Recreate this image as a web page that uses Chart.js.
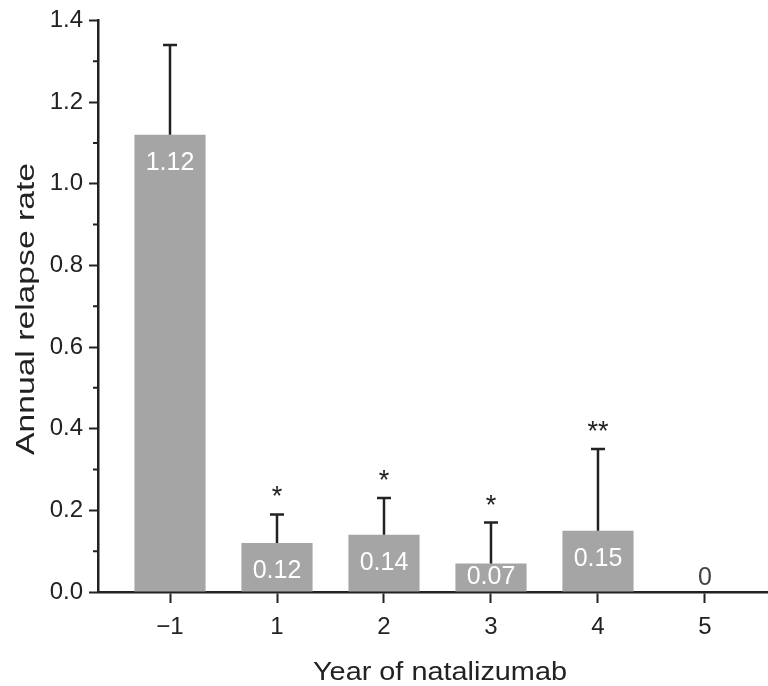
<!DOCTYPE html>
<html>
<head>
<meta charset="utf-8">
<script src="https://cdn.jsdelivr.net/npm/chart.js@4.4.0/dist/chart.umd.min.js"></script>
<style>
  html, body { margin: 0; padding: 0; background: #fff; }
  #wrap { width: 768px; height: 686px; }
</style>
</head>
<body>
<div id="wrap"><canvas id="chart" width="768" height="686"></canvas></div>
<script>
// values
const years = ["\u22121", "1", "2", "3", "4", "5"];
const relapseRate = [1.12, 0.12, 0.14, 0.07, 0.15, 0];
const errorUpper = [1.34, 0.19, 0.23, 0.17, 0.35, null];
const stars = ["", "*", "*", "*", "**", ""];
const rateLabels = ["1.12", "0.12", "0.14", "0.07", "0.15", "0"];
const minorTicks = [0.1, 0.3, 0.5, 0.7, 0.9, 1.1, 1.3];

const FONT = "'Liberation Sans', Arial, sans-serif";
const INK = "#222";
const BAR = "#a5a5a5";

// error bars, stars, numbers in bars, minor ticks and axis titles
const extras = {
  id: "extras",
  afterDatasetsDraw(chart) {
    const ctx = chart.ctx;
    const y = chart.scales.y;
    const meta = chart.getDatasetMeta(0);
    ctx.save();
    meta.data.forEach((bar, i) => {
      const cx = bar.x;
      if (errorUpper[i] != null) {
        const top = y.getPixelForValue(errorUpper[i]);
        ctx.strokeStyle = INK;
        ctx.lineWidth = 2.5;
        ctx.beginPath();
        ctx.moveTo(cx, bar.y);
        ctx.lineTo(cx, top);
        ctx.moveTo(cx - 7, top);
        ctx.lineTo(cx + 7, top);
        ctx.stroke();
        if (stars[i]) {
          ctx.fillStyle = INK;
          ctx.font = "27px " + FONT;
          ctx.textAlign = "center";
          ctx.textBaseline = "alphabetic";
          ctx.fillText(stars[i], cx, top - 9);
        }
      }
      // number inside the bar (or just above the axis when the bar is short)
      const ly = Math.min(bar.y + 28, bar.base - 14);
      ctx.fillStyle = relapseRate[i] > 0 ? "#fff" : "#444";
      ctx.font = "25px " + FONT;
      ctx.textAlign = "center";
      ctx.textBaseline = "middle";
      ctx.fillText(rateLabels[i], cx, ly);
    });
    ctx.restore();
  },
  afterDraw(chart) {
    const ctx = chart.ctx;
    const y = chart.scales.y;
    const left = chart.chartArea.left;
    ctx.save();
    // minor ticks on y axis
    ctx.strokeStyle = INK;
    ctx.lineWidth = 2;
    ctx.beginPath();
    minorTicks.forEach((v) => {
      const py = y.getPixelForValue(v);
      ctx.moveTo(left - 5, py);
      ctx.lineTo(left, py);
    });
    ctx.stroke();

    ctx.fillStyle = INK;
    ctx.font = "26px " + FONT;
    ctx.textAlign = "center";
    ctx.textBaseline = "alphabetic";

    // x title
    let t = "Year of natalizumab";
    let w = ctx.measureText(t).width;
    ctx.save();
    ctx.translate(440, 680);
    ctx.scale(254 / w, 1);
    ctx.fillText(t, 0, 0);
    ctx.restore();

    // y title
    t = "Annual relapse rate";
    w = ctx.measureText(t).width;
    ctx.save();
    ctx.translate(34, 309);
    ctx.rotate(-Math.PI / 2);
    ctx.scale(292 / w, 1);
    ctx.fillText(t, 0, 0);
    ctx.restore();

    ctx.restore();
  },
};

const ctx = document.getElementById("chart").getContext("2d");
const chart = new Chart(ctx, {
  type: "bar",
  data: {
    datasets: [
      {
        data: relapseRate.map((v, i) => ({ x: i, y: v })),
        backgroundColor: BAR,
        borderWidth: 0,
        barPercentage: 0.665,
        categoryPercentage: 1,
      },
    ],
  },
  options: {
    responsive: false,
    animation: false,
    layout: { padding: { top: 20, left: 0, right: 0, bottom: 0 } },
    plugins: {
      legend: { display: false },
      tooltip: { enabled: false },
    },
    scales: {
      x: {
        type: "linear",
        min: -0.673,
        max: 5.589,
        offset: false,
        afterFit: (scale) => { scale.height = 94; },
        border: { display: true, color: INK, width: 2.5 },
        grid: {
          offset: false,
          drawOnChartArea: false,
          drawTicks: true,
          tickLength: 11,
          tickColor: INK,
          tickWidth: 2,
        },
        ticks: {
          stepSize: 1,
          includeBounds: false,
          color: INK,
          padding: 10,
          maxRotation: 0,
          font: { family: FONT, size: 24 },
          callback: (v) => (Number.isInteger(v) && years[v] !== undefined ? years[v] : ""),
        },
      },
      y: {
        min: 0,
        max: 1.4,
        afterFit: (scale) => { scale.width = 98; },
        border: { display: true, color: INK, width: 2.5 },
        grid: {
          drawOnChartArea: false,
          drawTicks: true,
          tickLength: 9,
          tickColor: INK,
          tickWidth: 2,
        },
        ticks: {
          stepSize: 0.2,
          color: INK,
          padding: 6,
          font: { family: FONT, size: 24 },
          callback: (v) => v.toFixed(1),
        },
      },
    },
  },
  plugins: [extras],
});
</script>
</body>
</html>
